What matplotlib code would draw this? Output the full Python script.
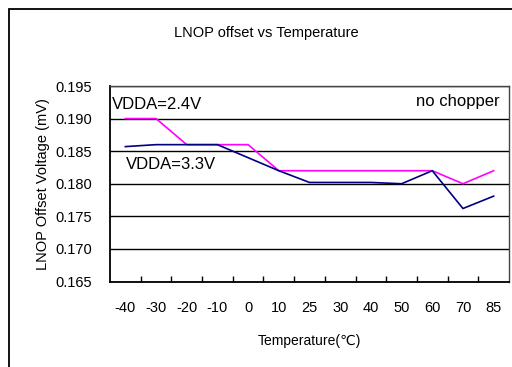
import matplotlib
matplotlib.use("Agg")
import matplotlib.pyplot as plt
from matplotlib.patches import Rectangle
import numpy as np

plt.rcParams["font.family"] = ["Liberation Sans", "DejaVu Sans"]

TEMPS = ["-40", "-30", "-20", "-10", "0", "10", "25", "30", "40", "50", "60", "70", "85"]
VDDA_24 = [0.190, 0.190, 0.186, 0.186, 0.186, 0.182, 0.182, 0.182, 0.182, 0.182, 0.182, 0.180, 0.182]
VDDA_33 = [0.1857, 0.186, 0.186, 0.186, 0.184, 0.182, 0.1802, 0.1802, 0.1802, 0.180, 0.182, 0.1762, 0.1781]
Y_TICKS = [0.165, 0.170, 0.175, 0.180, 0.185, 0.190, 0.195]

W, H = 512, 367
fig = plt.figure(figsize=(W / 100, H / 100), dpi=100)

# outer chart frame (right/bottom edges fall outside the image)
fig.patches.append(Rectangle((9 / W, -0.1), 1.2, 1 - 9 / H + 0.1, transform=fig.transFigure,
                             fill=False, edgecolor="black", linewidth=1.3))

ax = fig.add_axes([110 / W, 1 - 281.5 / H, 399 / W, (281.5 - 86) / H])
x = np.arange(len(TEMPS))
ax.plot(x, VDDA_24, color="#FF00FF", linewidth=1.2)
ax.plot(x, VDDA_33, color="#000080", linewidth=1.2)

ax.set_xlim(-0.5, len(TEMPS) - 0.5)
ax.set_ylim(0.165, 0.195)
ax.set_yticks(Y_TICKS)
ax.set_yticklabels([f"{v:.3f}" for v in Y_TICKS], fontsize=10.5)
ax.tick_params(axis="y", length=0, pad=13)
ax.set_xticks(x)
ax.set_xticklabels(TEMPS, fontsize=10.5)
ax.tick_params(axis="x", which="major", length=0, pad=14)
ax.set_xticks(np.arange(0.5, len(TEMPS) - 1, 1.0), minor=True)
ax.tick_params(axis="x", which="minor", direction="in", length=4, width=1)
ax.yaxis.grid(True, color="black", linewidth=1)
ax.set_axisbelow(True)
for side in ["top", "right"]:
    ax.spines[side].set_color("#444444")
    ax.spines[side].set_linewidth(1)
for side in ["left", "bottom"]:
    ax.spines[side].set_color("black")
    ax.spines[side].set_linewidth(1.3)

ax.set_ylabel("LNOP Offset Voltage (mV)", fontsize=10.5, labelpad=4)
ax.set_xlabel("Temperature(℃)", fontsize=10, labelpad=14)

ax.text(0.005, 0.903, "VDDA=2.4V", fontsize=12, va="center", ha="left", transform=ax.transAxes)
ax.text(0.04, 0.601, "VDDA=3.3V", fontsize=12, va="center", ha="left", transform=ax.transAxes)
ax.text(0.977, 0.92, "no chopper", fontsize=12, va="center", ha="right", transform=ax.transAxes)

fig.text(266 / W, 1 - 33 / H, "LNOP offset vs Temperature", fontsize=10.5, ha="center", va="center")

fig.savefig("out.png", dpi=100)
